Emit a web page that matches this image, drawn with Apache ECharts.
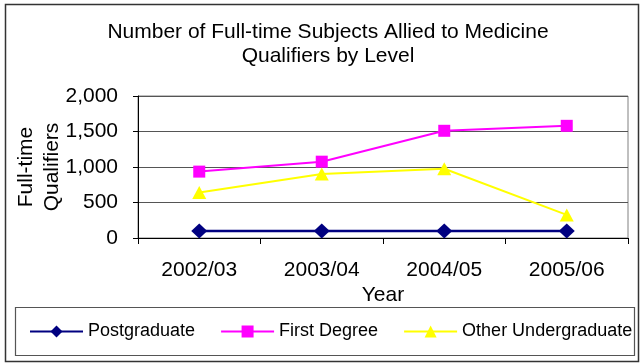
<!DOCTYPE html>
<html>
<head>
<meta charset="utf-8">
<script src="https://cdn.jsdelivr.net/npm/echarts@6/dist/echarts.min.js"></script>
<style>
html,body{margin:0;padding:0;background:#fff;}
#chart{width:641px;height:363px;}
</style>
</head>
<body>
<div id="chart"></div>
<script>
var titleLines = ['Number of Full-time Subjects Allied to Medicine', 'Qualifiers by Level'];
var categories = ['2002/03', '2003/04', '2004/05', '2005/06'];
var postgraduate = [100, 100, 100, 100];
var firstDegree = [935, 1075, 1510, 1580];
var otherUndergraduate = [640, 900, 975, 325];
var yTicks = [0, 500, 1000, 1500, 2000];

var FONT = '"Liberation Sans", Arial, sans-serif';
var chart = echarts.init(document.getElementById('chart'), null, {renderer: 'canvas'});

var option = {
  animation: false,
  backgroundColor: '#ffffff',
  textStyle: {fontFamily: FONT},
  graphic: [
    {type: 'rect', z: -1, shape: {x: 5.5, y: 4.5, width: 633, height: 357}, style: {fill: 'none', stroke: '#333', lineWidth: 1.5}},
    {type: 'rect', z: -1, shape: {x: 15.5, y: 307.5, width: 619, height: 48}, style: {fill: 'none', stroke: '#555', lineWidth: 1.2}},
    {type: 'text', x: 328, y: 20, style: {
      text: titleLines.join('\n'), align: 'center', verticalAlign: 'top',
      font: '21px ' + FONT, fill: '#000', lineHeight: 24
    }}
  ],
  legend: {
    left: 29,
    top: 322,
    width: 612,
    itemWidth: 53,
    itemHeight: 15,
    itemGap: 25,
    padding: 0,
    textStyle: {fontFamily: FONT, fontSize: 18, color: '#000', lineHeight: 19},
    data: ['Postgraduate', 'First Degree', 'Other Undergraduate']
  },
  grid: {
    left: 138, right: 13, top: 96, bottom: 125,
    show: true, borderColor: '#808080', borderWidth: 1, backgroundColor: 'transparent'
  },
  xAxis: {
    type: 'category',
    data: categories,
    boundaryGap: true,
    name: 'Year',
    nameLocation: 'middle',
    nameGap: 47,
    nameMoveOverlap: false,
    nameTextStyle: {fontFamily: FONT, fontSize: 21, color: '#000', lineHeight: 21},
    axisLine: {lineStyle: {color: '#000', width: 1}},
    axisTick: {show: true, alignWithLabel: false, length: 6, lineStyle: {color: '#000'}},
    axisLabel: {fontFamily: FONT, fontSize: 21, color: '#000', margin: 22, lineHeight: 21},
    splitLine: {show: false}
  },
  yAxis: {
    type: 'value',
    min: yTicks[0],
    max: yTicks[yTicks.length - 1],
    interval: 500,
    name: 'Full-time\nQualifiers',
    nameLocation: 'middle',
    nameRotate: 90,
    nameGap: 73,
    nameMoveOverlap: false,
    nameTextStyle: {fontFamily: FONT, fontSize: 21, color: '#000', lineHeight: 26},
    axisLine: {show: true, lineStyle: {color: '#000', width: 1}},
    axisTick: {show: true, length: 5, lineStyle: {color: '#000'}},
    axisLabel: {
      fontFamily: FONT, fontSize: 21, color: '#000', margin: 20,
      formatter: function (v) { return v.toLocaleString('en-US'); }
    },
    splitLine: {show: true, lineStyle: {color: '#555', width: 1}}
  },
  series: [
    {
      name: 'Postgraduate', type: 'line', data: postgraduate,
      symbol: 'diamond', symbolSize: [16, 15], showAllSymbol: true,
      lineStyle: {color: '#000080', width: 2.5},
      itemStyle: {color: '#000080', borderWidth: 0}
    },
    {
      name: 'First Degree', type: 'line', data: firstDegree,
      symbol: 'rect', symbolSize: 12,
      lineStyle: {color: '#ff00ff', width: 2},
      itemStyle: {color: '#ff00ff', borderWidth: 0}
    },
    {
      name: 'Other Undergraduate', type: 'line', data: otherUndergraduate,
      symbol: 'triangle', symbolSize: [14, 13],
      lineStyle: {color: '#ffff00', width: 2},
      itemStyle: {color: '#ffff00', borderWidth: 0}
    }
  ]
};
chart.setOption(option);
</script>
</body>
</html>
